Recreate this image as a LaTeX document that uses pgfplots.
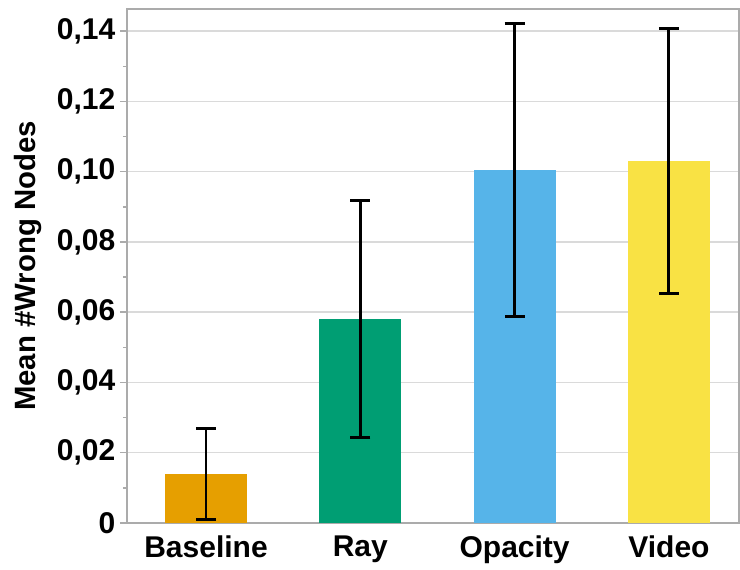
\documentclass[border=0pt]{standalone}
\usepackage{fontspec}
\setmainfont{Liberation Sans}
\usepackage{pgfplots}
\pgfplotsset{compat=1.18}
\usetikzlibrary{calc}
\definecolor{cbase}{HTML}{E69F00}
\definecolor{cray}{HTML}{009E73}
\definecolor{copa}{HTML}{56B4E9}
\definecolor{cvid}{HTML}{F9E244}
\definecolor{axgray}{HTML}{ABABAB}
\definecolor{gridgray}{HTML}{DADADA}
\begin{document}
\begin{tikzpicture}[x=0.75pt,y=0.75pt]
\begin{axis}[
  scale only axis,
  width=459pt, height=385.5pt,
  xmin=-0.512, xmax=3.454,
  ymin=0, ymax=0.1463,
  xtick={0,1,2,3},
  xticklabels={Baseline,Ray,Opacity,Video},
  ytick={0,0.02,0.04,0.06,0.08,0.10,0.12,0.14},
  yticklabels={0,{0,02},{0,04},{0,06},{0,08},{0,10},{0,12},{0,14}},
  minor y tick num=1,
  ymajorgrids,
  major grid style={gridgray, line width=1.1pt},
  axis line style={axgray, line width=1.1pt},
  tick style={axgray, line width=1.1pt},
  major tick length=5.25pt,
  minor tick length=3pt,
  ytick pos=left, tick align=outside,
  x tick style={draw=none},
  yticklabel style={font=\fontsize{22.5}{26}\selectfont\bfseries, xshift=0pt},
  xticklabel style={font=\fontsize{22.5}{26}\selectfont\bfseries, yshift=-1pt},
  ylabel={Mean \#Wrong Nodes},
  ylabel style={font=\fontsize{22}{26}\selectfont\bfseries, at={(rel axis cs:0,0.5)}, anchor=center, yshift=74pt},
  clip=false,
  error bars/y dir=both,
  error bars/y explicit,
  error bars/error bar style={black, line width=2.2pt},
  error bars/error mark options={black, line width=2.2pt, mark size=7.5pt, rotate=90},
]
\coordinate (bl) at (rel axis cs:0,0);
\coordinate (tr) at (rel axis cs:1,1);
\addplot[ybar, bar width=61.5pt, fill=cbase, draw=none] coordinates {(0,0.0139) +- (0,0.0130)};
\addplot[ybar, bar width=61.5pt, fill=cray, draw=none] coordinates {(1,0.0580) +- (0,0.0337)};
\addplot[ybar, bar width=61.5pt, fill=copa, draw=none] coordinates {(2,0.1004) +- (0,0.0417)};
\addplot[ybar, bar width=61.5pt, fill=cvid, draw=none] coordinates {(3,0.1030) +- (0,0.0377)};
\end{axis}
\pgfresetboundingbox
\path ($(bl)+(-95.25pt,-34.5pt)$) rectangle ($(tr)+(0.75pt,6.75pt)$);
\end{tikzpicture}
\end{document}
